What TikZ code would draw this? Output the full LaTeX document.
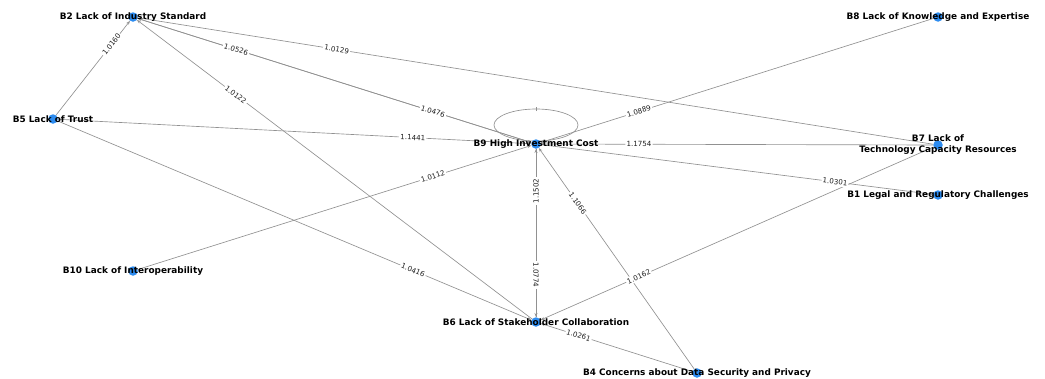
\documentclass[tikz,border=0pt]{standalone}
\usepackage{fontspec}
\setmainfont{DejaVu Sans}
\usetikzlibrary{arrows.meta,backgrounds}
\definecolor{nodeblue}{RGB}{45,140,240}
\definecolor{edgegray}{RGB}{145,145,145}
\definecolor{labelgray}{RGB}{30,30,30}
\tikzset{
  barrier/.style={circle, fill=nodeblue, minimum size=9.5pt, inner sep=0pt},
  namelabel/.style={font=\bfseries\fontsize{8.9}{10.9}\selectfont, align=center, text=black, inner sep=0pt},
  link/.style={draw=edgegray, line width=0.65pt, -{Stealth[length=4pt,width=3pt]}},
  weightbase/.style={font=\fontsize{7.1}{8}\selectfont, text=labelgray, fill=white, inner sep=1.2pt, pos=0.75},
  weight/.style={weightbase, sloped},
}
\begin{document}
\begin{tikzpicture}[x=1pt, y=-1pt]
\useasboundingbox (0,0) rectangle (1045,378);

% barriers
\node[barrier, label={[namelabel]center:B2 Lack of Industry Standard}] (b2) at (133,17) {};
\node[barrier, label={[namelabel]center:B5 Lack of Trust}] (b5) at (53,119) {};
\node[barrier, label={[namelabel]center:B9 High Investment Cost}] (b9) at (536,144) {};
\node[barrier, label={[namelabel]center:B8 Lack of Knowledge and Expertise}] (b8) at (938,17) {};
\node[barrier, label={[namelabel]center:{B7 Lack of\\Technology Capacity Resources}}] (b7) at (938,145) {};
\node[barrier, label={[namelabel]center:B1 Legal and Regulatory Challenges}] (b1) at (938,195) {};
\node[barrier, label={[namelabel]center:B10 Lack of Interoperability}] (b10) at (133,271) {};
\node[barrier, label={[namelabel]center:B6 Lack of Stakeholder Collaboration}] (b6) at (536,322) {};
\node[barrier, label={[namelabel]center:B4 Concerns about Data Security and Privacy}] (b4) at (697,373) {};

\begin{scope}[on background layer]
  % influences between barriers
  \draw[link] (b5) -- (b2);
  \draw[link] (b9) -- (b2);
  \draw[link] (b2) -- (b9);
  \draw[link] (b7) -- (b2);
  \draw[link] (b6) -- (b2);
  \draw[link] (b5) -- (b9);
  \draw[link] (b7) -- (b9);
  \draw[link] (b8) -- (b9);
  \draw[link] (b10) -- (b9);
  \draw[link] (b6) -- (b9);
  \draw[link] (b9) -- (b6);
  \draw[link] (b4) -- (b9);
  \draw[link] (b5) -- (b6);
  \draw[link] (b7) -- (b6);
  \draw[link] (b4) -- (b6);
  \draw[link] (b9) -- (b1);
  % self influence of B9
  \draw[draw=edgegray, line width=0.65pt] ([yshift=19pt]b9.center) ellipse [x radius=42pt, y radius=16pt];
  \draw[draw=edgegray, line width=0.65pt] ([yshift=33pt]b9.center) -- ([yshift=37pt]b9.center);
  % influence weights, placed after all lines so their boxes stay clear
  \path (b5) -- node[weight]{1.0160} (b2);
  \path (b9) -- node[weight]{1.0526} (b2);
  \path (b2) -- node[weight]{1.0476} (b9);
  \path (b7) -- node[weight]{1.0129} (b2);
  \path (b6) -- node[weight]{1.0122} (b2);
  \path (b5) -- node[weight]{1.1441} (b9);
  \path (b7) -- node[weight]{1.1754} (b9);
  \path (b8) -- node[weight]{1.0889} (b9);
  \path (b10) -- node[weight]{1.0112} (b9);
  \path (b6) -- node[weightbase, rotate=90]{1.1502} (b9);
  \path (b9) -- node[weightbase, rotate=-90]{1.0774} (b6);
  \path (b4) -- node[weight]{1.1066} (b9);
  \path (b5) -- node[weight]{1.0416} (b6);
  \path (b7) -- node[weight]{1.0162} (b6);
  \path (b4) -- node[weight]{1.0261} (b6);
  \path (b9) -- node[weight]{1.0301} (b1);
\end{scope}
\end{tikzpicture}
\end{document}
